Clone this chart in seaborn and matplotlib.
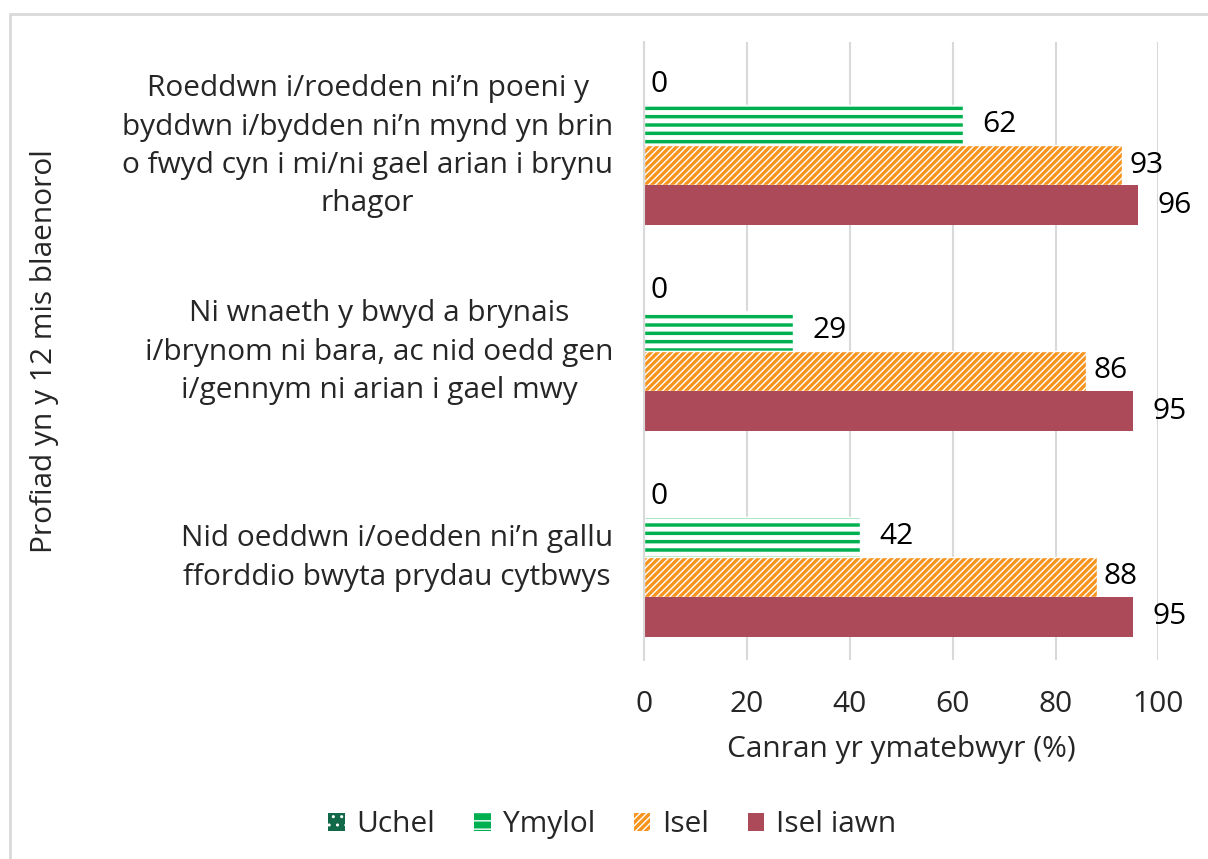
import matplotlib
matplotlib.use("Agg")
import matplotlib.pyplot as plt
import matplotlib.patches as mpatches
import matplotlib.transforms as mtransforms
import seaborn as sns
import pandas as pd

# ---------------------------- dados ----------------------------
categorias = [
    "Roeddwn i/roedden ni’n poeni y\nbyddwn i/bydden ni’n mynd yn brin\no fwyd cyn i mi/ni gael arian i brynu\nrhagor",
    "Ni wnaeth y bwyd a brynais\ni/brynom ni bara, ac nid oedd gen\ni/gennym ni arian i gael mwy",
    "Nid oeddwn i/oedden ni’n gallu\nfforddio bwyta prydau cytbwys",
]
grupos = ["Uchel", "Ymylol", "Isel", "Isel iawn"]
uchel = [0, 0, 0]
ymylol = [62, 29, 42]
isel = [93, 86, 88]
isel_iawn = [96, 95, 95]
xticks = [0, 20, 40, 60, 80, 100]

valores = {"Uchel": uchel, "Ymylol": ymylol, "Isel": isel, "Isel iawn": isel_iawn}
linhas = []
for g in grupos:
    for c, v in zip(categorias, valores[g]):
        linhas.append({"cat": c, "grupo": g, "valor": v})
df = pd.DataFrame(linhas)

# ---------------------------- estilo ----------------------------
sns.set_style("white")
plt.rcParams["font.family"] = ["Open Sans", "DejaVu Sans"]
FS = 21.5

cores = {"Uchel": "#12694A", "Ymylol": "#00B050", "Isel": "#F7941D", "Isel iawn": "#AD4A5A"}
# listras brancas por cima da cor (hatch branco)
hatches = {"Uchel": "", "Ymylol": "--", "Isel": "/////", "Isel iawn": ""}
hatch_lw = {"Ymylol": 3.5, "Isel": 1.0}
pads = {"Uchel": 5, "Ymylol": 14, "Isel": 5, "Isel iawn": 14}

fig = plt.figure(figsize=(12.08, 8.59), dpi=100)
ax = fig.add_axes([0.533, 0.232, 0.426, 0.719])

sns.barplot(data=df, y="cat", x="valor", hue="grupo", hue_order=grupos,
            orient="h", width=0.78, palette=cores, ax=ax, legend=False,
            saturation=1)

for cont, g in zip(ax.containers, grupos):
    for p in cont:
        if hatches[g]:
            # borda branca fina cobre o serrilhado do hatch na borda da barra
            p.set_edgecolor("white")
            p.set_linewidth(1.0)
            p.set_hatch(hatches[g])
            try:
                p.set_hatch_linewidth(hatch_lw[g])
            except AttributeError:
                pass
        else:
            p.set_linewidth(0)
    ax.bar_label(cont, labels=[f"{int(v)}" for v in cont.datavalues],
                 padding=pads[g], fontsize=FS, color="black")

ax.set_xlim(0, 100)
ax.set_xticks(xticks)
ax.set_xlabel("Canran yr ymatebwyr (%)", fontsize=FS, labelpad=11)
ax.set_ylabel("Profiad yn y 12 mis blaenorol", fontsize=FS)
ax.yaxis.set_label_coords(-1.136, 0.5)
ax.grid(axis="x", color="#D9D9D9", linewidth=1.5)
ax.set_axisbelow(True)
for s in ["top", "right", "bottom"]:
    ax.spines[s].set_visible(False)
ax.spines["left"].set_color("#D9D9D9")
ax.spines["left"].set_linewidth(1.5)
ax.tick_params(axis="x", length=0, labelsize=FS, pad=22)
ax.tick_params(axis="y", length=0, labelsize=FS, pad=22)
subir = mtransforms.ScaledTranslation(0, 0.07, fig.dpi_scale_trans)
for t in ax.get_yticklabels():
    t.set_multialignment("center")
    t.set_linespacing(1.42)
    t.set_transform(t.get_transform() + subir)
ax.set_yticks([-0.5, 0.5, 1.5, 2.5], minor=True)
ax.tick_params(axis="y", which="minor", length=7, width=1.5, color="#D9D9D9")
ax.set_ylim(2.5, -0.5)

# legenda
handles = []
for g in grupos:
    if g == "Uchel":
        h = mpatches.Patch(facecolor=cores[g], edgecolor="white", hatch="..", linewidth=0)
    elif hatches[g]:
        h = mpatches.Patch(facecolor=cores[g], edgecolor="white", hatch=hatches[g], linewidth=0)
    else:
        h = mpatches.Patch(facecolor=cores[g], linewidth=0)
    handles.append(h)
fig.legend(handles, grupos, loc="center", bbox_to_anchor=(0.507, 0.04), ncol=4,
           frameon=False, fontsize=FS, handlelength=0.55, handleheight=0.55,
           handletextpad=0.4, columnspacing=1.3)

# moldura
fig.add_artist(mpatches.Rectangle((10 / 1208, -0.1), 1.2, 1 - 14 / 859 + 0.1,
                                  transform=fig.transFigure, fill=False,
                                  edgecolor="#D9D9D9", linewidth=2))

fig.savefig("out.png", dpi=100)
